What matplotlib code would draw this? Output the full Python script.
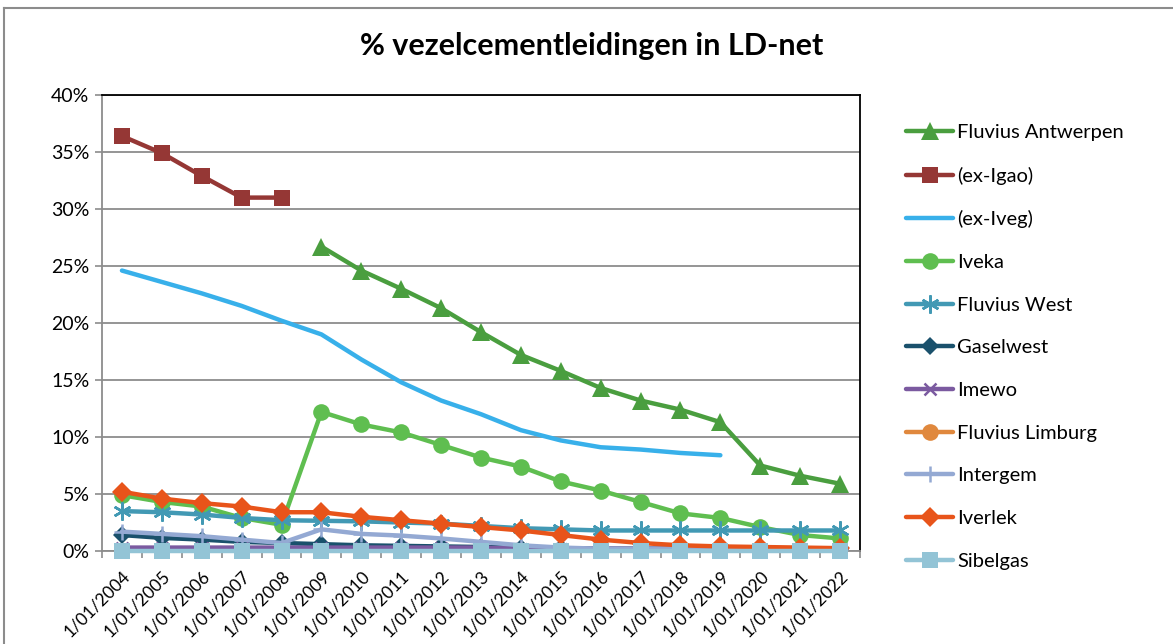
import matplotlib.pyplot as plt
import numpy as np
from matplotlib.lines import Line2D
from matplotlib.ticker import FuncFormatter, MultipleLocator

plt.rcParams['font.family'] = ['Lato', 'DejaVu Sans']

dates = ['1/01/2004', '1/01/2005', '1/01/2006', '1/01/2007', '1/01/2008',
         '1/01/2009', '1/01/2010', '1/01/2011', '1/01/2012', '1/01/2013',
         '1/01/2014', '1/01/2015', '1/01/2016', '1/01/2017', '1/01/2018',
         '1/01/2019', '1/01/2020', '1/01/2021', '1/01/2022']
nan = np.nan

# percentages per year
fluvius_antwerpen = [nan, nan, nan, nan, nan, 26.7, 24.6, 23.0, 21.3, 19.2,
                     17.2, 15.8, 14.3, 13.2, 12.4, 11.3, 7.5, 6.6, 5.9]
ex_igao = [36.4, 34.9, 32.9, 31.0, 31.0, nan, nan, nan, nan, nan,
           nan, nan, nan, nan, nan, nan, nan, nan, nan]
ex_iveg = [24.6, 23.6, 22.6, 21.5, 20.2, 19.0, 16.8, 14.8, 13.2, 12.0,
           10.6, 9.7, 9.1, 8.9, 8.6, 8.4, nan, nan, nan]
iveka = [4.9, 4.3, 3.9, 2.9, 2.3, 12.2, 11.1, 10.4, 9.3, 8.2,
         7.4, 6.1, 5.3, 4.3, 3.3, 2.9, 2.1, 1.4, 1.1]
fluvius_west = [3.5, 3.4, 3.2, 2.9, 2.7, 2.65, 2.6, 2.5, 2.4, 2.2,
                2.0, 1.9, 1.8, 1.8, 1.8, 1.8, 1.8, 1.8, 1.8]
gaselwest = [1.4, 1.15, 1.0, 0.8, 0.7, 0.6, 0.5, 0.45, 0.4, 0.35,
             0.3, 0.25, 0.2, 0.2, 0.2, 0.2, 0.2, 0.2, 0.2]
imewo = [0.3, 0.3, 0.3, 0.3, 0.3, 0.3, 0.3, 0.3, 0.3, 0.3,
         0.2, 0.2, 0.2, 0.2, 0.2, 0.2, 0.2, 0.2, 0.2]
fluvius_limburg = [nan] * 19
intergem = [1.7, 1.5, 1.3, 1.0, 0.7, 1.9, 1.5, 1.35, 1.1, 0.8,
            0.5, 0.3, 0.2, 0.2, 0.2, 0.2, 0.2, 0.2, 0.2]
iverlek = [5.2, 4.6, 4.2, 3.9, 3.4, 3.4, 3.0, 2.7, 2.4, 2.1,
           1.8, 1.4, 1.0, 0.7, 0.5, 0.4, 0.35, 0.3, 0.25]
sibelgas = [0.0] * 19

series = [
    ('Fluvius Antwerpen', fluvius_antwerpen, '#4A9E3F', '^', 13),
    ('(ex-Igao)', ex_igao, '#953735', 's', 11),
    ('(ex-Iveg)', ex_iveg, '#38B0EA', None, 0),
    ('Iveka', iveka, '#5FBE50', 'o', 12),
    ('Fluvius West', fluvius_west, '#4299B4', (6, 2, 0), 13),
    ('Gaselwest', gaselwest, '#1A516C', 'D', 9),
    ('Imewo', imewo, '#7B5AA0', 'x', 9),
    ('Fluvius Limburg', fluvius_limburg, '#E0883D', 'o', 12),
    ('Intergem', intergem, '#94A9D3', '+', 12),
    ('Iverlek', iverlek, '#E8541A', 'D', 10),
    ('Sibelgas', sibelgas, '#93C4D6', 's', 12),
]

fig = plt.figure(figsize=(11.73, 6.44), dpi=100)
ax = fig.add_axes([102 / 1173, 1 - 551 / 644, 758 / 1173, 456 / 644])

x = np.arange(len(dates))
for i, (name, vals, col, mk, ms) in enumerate(series):
    ax.plot(x, vals, color=col, lw=3.2, marker=mk, markersize=ms,
            markeredgewidth=1.8 if mk in ('x', '+', (6, 2, 0)) else 0,
            markerfacecolor=col, markeredgecolor=col,
            solid_capstyle='round', label=name, clip_on=False, zorder=3 + i)

ax.set_xlim(-0.5, len(dates) - 0.5)
ax.set_ylim(0, 40)
ax.yaxis.set_major_locator(MultipleLocator(5))
ax.yaxis.set_major_formatter(FuncFormatter(lambda v, p: f'{v:.0f}%'))
ax.grid(axis='y', color='#8c8c8c', lw=1.3)
ax.set_axisbelow(True)

ax.set_xticks(x)
ax.set_xticklabels(dates, rotation=45, ha='right', rotation_mode='anchor',
                   fontsize=12.5)
ax.set_xticks(np.arange(-0.5, len(dates), 1), minor=True)
ax.tick_params(axis='x', which='major', length=0, pad=12)
ax.tick_params(axis='x', which='minor', length=5, color='#8c8c8c', width=1.2)
ax.tick_params(axis='y', length=5, color='#8c8c8c', width=1.2,
               labelsize=14, pad=4)

for s in ('left', 'bottom'):
    ax.spines[s].set_color('#8c8c8c')
    ax.spines[s].set_linewidth(1.3)
for s in ('top', 'right'):
    ax.spines[s].set_color('black')
    ax.spines[s].set_linewidth(1.3)

fig.text(592 / 1173, 1 - 46 / 644, '% vezelcementleidingen in LD-net',
         ha='center', va='center', fontsize=22, fontweight='bold')

leg = fig.legend(loc='upper left', bbox_to_anchor=(898 / 1173, 1 - 116 / 644),
                 frameon=False, fontsize=14.5, handlelength=2.35,
                 handletextpad=0.2, labelspacing=1.27, borderaxespad=0)

# outer chart frame (cropped on right and bottom)
fig.add_artist(Line2D([4 / 1173, 4 / 1173], [0, 1 - 8 / 644],
                      transform=fig.transFigure, color='#8c8c8c', lw=1.5))
fig.add_artist(Line2D([4 / 1173, 1], [1 - 8 / 644, 1 - 8 / 644],
                      transform=fig.transFigure, color='#8c8c8c', lw=1.5))

fig.savefig('out.png', dpi=100)
